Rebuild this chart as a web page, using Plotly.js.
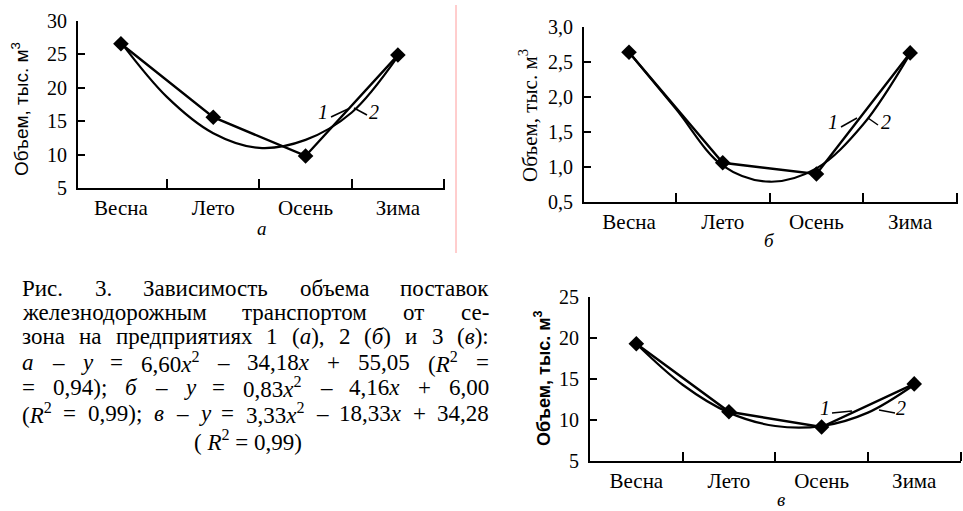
<!DOCTYPE html>
<html>
<head>
<meta charset="utf-8">
<script src="https://cdn.plot.ly/plotly-3.0.1.min.js"></script>
<style>html,body{margin:0;padding:0;background:#fff;}#chart{width:963px;height:511px;}</style>
</head>
<body>
<div id="chart"></div>
<script>
// ---- data ----
const seasons = ['Весна', 'Лето', 'Осень', 'Зима'];
const seasonIdx = [1, 2, 3, 4];
// 1: actual supply volume, thousand m3
const volA = [26.6, 15.6, 9.8, 24.9];
const volB = [2.64, 1.06, 0.90, 2.63];
const volC = [19.3, 11.0, 9.15, 14.4];
// 2: trend curve at half-season steps
const trendX = [1, 1.5, 2, 2.5, 3, 3.5, 4];
const trendA = [26.8, 18.6, 13.2, 11.0, 12.2, 16.3, 24.7];
const trendB = [2.64, 1.83, 1.02, 0.79, 0.98, 1.61, 2.62];
const trendC = [19.3, 14.3, 10.9, 9.27, 9.26, 10.9, 14.3];
const yTicksA = [5, 10, 15, 20, 25, 30];
const yTicksB = [0.5, 1.0, 1.5, 2.0, 2.5, 3.0];
const yTicksC = [5, 10, 15, 20, 25];
const yTitle = 'Объем, тыс. м<sup>3</sup>';
const panelLabels = ['а', 'б', 'в'];
const captionLines = [
  ['Рис.', '3.', 'Зависимость', 'объема', 'поставок'],
  ['железнодорожным', 'транспортом', 'от', 'се-'],
  ['зона', 'на', 'предприятиях', '1', '(<i>а</i>),', '2', '(<i>б</i>)', 'и', '3', '(<i>в</i>):'],
  ['<i>а</i>', '–', '<i>у</i>', '=', '6,60<i>x</i><sup>2</sup>', '–', '34,18<i>x</i>', '+', '55,05', '(<i>R</i><sup>2</sup>', '='],
  ['=', '0,94);', '<i>б</i>', '–', '<i>у</i>', '=', '0,83<i>x</i><sup>2</sup>', '–', '4,16<i>x</i>', '+', '6,00'],
  ['(<i>R</i><sup>2</sup>', '=', '0,99);', '<i>в</i>', '–', '<i>у</i>', '=', '3,33<i>x</i><sup>2</sup>', '–', '18,33<i>x</i>', '+', '34,28']
];
const captionLast = '( <i>R</i><sup>2</sup> = 0,99)';

// ---- layout helpers ----
const W = 963, H = 511;
const px = x => x / W;
const py = y => 1 - y / H;
const serif = 'Liberation Serif';
const sans = 'Liberation Sans';

function series(xa, ya, v, t) {
  return [
    {x: trendX, y: t, xaxis: xa, yaxis: ya, type: 'scatter', mode: 'lines',
     line: {color: '#000', width: 2.2, shape: 'spline', smoothing: 1}, hoverinfo: 'skip'},
    {x: seasonIdx, y: v, xaxis: xa, yaxis: ya, type: 'scatter', mode: 'lines+markers',
     line: {color: '#000', width: 2.4}, marker: {symbol: 'diamond', size: 12, color: '#000'}}
  ];
}
const data = [].concat(
  series('x', 'y', volA, trendA),
  series('x2', 'y2', volB, trendB),
  series('x3', 'y3', volC, trendC)
);

function xax(dom, rng, anchor) {
  return {domain: dom, range: rng, anchor: anchor, tickmode: 'array', tickvals: seasonIdx, ticktext: seasons,
    ticks: '', showgrid: false, zeroline: false, showline: true, linecolor: '#000', linewidth: 2,
    tickfont: {family: serif, size: 21, color: '#000'}, ticklabelstandoff: 0,
    minor: {tickmode: 'array', tickvals: [1.5, 2.5, 3.5, 4.5], ticks: 'inside', ticklen: 9, tickwidth: 2, tickcolor: '#000', showgrid: false},
    fixedrange: true};
}
function yax(dom, rng, anchor, tv, fmt) {
  return {domain: dom, range: rng, anchor: anchor, tickmode: 'array', tickvals: tv, tickformat: fmt,
    ticks: 'inside', ticklen: 7, tickwidth: 2, tickcolor: '#000', showgrid: false, zeroline: false,
    showline: true, linecolor: '#000', linewidth: 2, ticklabelstandoff: 5,
    tickfont: {family: serif, size: 20, color: '#000'}, fixedrange: true};
}

const ann = [];
function txt(text, x, y, opts) {
  ann.push(Object.assign({text: text, x: px(x), y: py(y), xref: 'paper', yref: 'paper', showarrow: false,
    xanchor: 'left', yanchor: 'middle', font: {family: serif, size: 20, color: '#000'}}, opts || {}));
}
// axis titles
txt(yTitle, 20, 109, {textangle: -90, xanchor: 'center', font: {family: sans, size: 19, color: '#000'}});
txt(yTitle, 528, 116, {textangle: -90, xanchor: 'center', font: {family: serif, size: 21, color: '#000'}});
txt('<b>' + yTitle + '</b>', 542, 378, {textangle: -90, xanchor: 'center', font: {family: sans, size: 18, color: '#000'}});
// panel letters
const pf = {family: serif, size: 19, color: '#000'};
txt('<i>' + panelLabels[0] + '</i>', 262, 229, {xanchor: 'center', font: pf});
txt('<i>' + panelLabels[1] + '</i>', 769, 240, {xanchor: 'center', font: pf});
txt('<i>' + panelLabels[2] + '</i>', 781, 499, {xanchor: 'center', font: pf});
// curve labels 1 and 2
const lf = {family: serif, size: 20, color: '#000'};
txt('<i>1</i>', 323, 112, {xanchor: 'center', font: lf});
txt('<i>2</i>', 374, 112, {xanchor: 'center', font: lf});
txt('<i>1</i>', 833, 122, {xanchor: 'center', font: lf});
txt('<i>2</i>', 886, 122, {xanchor: 'center', font: lf});
txt('<i>1</i>', 825, 408, {xanchor: 'center', font: lf});
txt('<i>2</i>', 901, 408, {xanchor: 'center', font: lf});

// ---- caption, justified between two margins by measuring words ----
const CAP_SIZE = 23;
const cv = document.createElement('canvas').getContext('2d');
function measure(html) {
  let w = 0, ital = false, sup = false;
  html.split(/(<\/?(?:i|sup)>)/).forEach(p => {
    if (p === '<i>') ital = true; else if (p === '</i>') ital = false;
    else if (p === '<sup>') sup = true; else if (p === '</sup>') sup = false;
    else if (p) {
      const s = sup ? CAP_SIZE * 0.7 : CAP_SIZE;
      cv.font = (ital ? 'italic ' : '') + s + 'px "Liberation Serif"';
      w += cv.measureText(p).width;
    }
  });
  return w + 3; // small safety pad
}
const capLeft = 20, capRight = 490;
const capY = [288, 312, 336.5, 362, 387.5, 413, 440.5];
const cf = {family: serif, size: CAP_SIZE, color: '#000'};
captionLines.forEach((words, li) => {
  const widths = words.map(measure);
  const total = widths.reduce((a, b) => a + b, 0);
  const gap = (capRight - capLeft - total) / (words.length - 1);
  let x = capLeft;
  words.forEach((w, i) => { txt(w, x, capY[li], {font: cf}); x += widths[i] + gap; });
});
txt(captionLast, 248, capY[6], {xanchor: 'center', font: cf});

const shapes = [
  {type: 'line', xref: 'paper', yref: 'paper', x0: px(456), x1: px(456), y0: py(5), y1: py(253), line: {color: '#ff9c9c', width: 1}},
  // leader lines for labels 1 and 2
  {type: 'line', xref: 'paper', yref: 'paper', x0: px(331), y0: py(117), x1: px(348), y1: py(109), line: {color: '#000', width: 1.5}},
  {type: 'line', xref: 'paper', yref: 'paper', x0: px(367), y0: py(115), x1: px(354), y1: py(108), line: {color: '#000', width: 1.5}},
  {type: 'line', xref: 'paper', yref: 'paper', x0: px(841), y0: py(127), x1: px(857), y1: py(118), line: {color: '#000', width: 1.5}},
  {type: 'line', xref: 'paper', yref: 'paper', x0: px(878), y0: py(125), x1: px(868), y1: py(118), line: {color: '#000', width: 1.5}},
  {type: 'line', xref: 'paper', yref: 'paper', x0: px(832), y0: py(413), x1: px(852), y1: py(411), line: {color: '#000', width: 1.5}},
  {type: 'line', xref: 'paper', yref: 'paper', x0: px(895), y0: py(413), x1: px(879), y1: py(410), line: {color: '#000', width: 1.5}}
];

const layout = {
  width: W, height: H, margin: {l: 0, r: 0, t: 0, b: 0}, showlegend: false,
  paper_bgcolor: '#fff', plot_bgcolor: 'rgba(0,0,0,0)', separators: ', ',
  xaxis: xax([px(78), px(444.5)], [0.535, 4.505], 'y'),
  yaxis: yax([py(188), py(21)], [5, 30], 'x', yTicksA),
  xaxis2: xax([px(584), px(957.5)], [0.52, 4.505], 'y2'),
  yaxis2: yax([py(202), py(27)], [0.5, 3.0], 'x2', yTicksB, '.1f'),
  xaxis3: xax([px(590), px(961)], [0.5, 4.505], 'y3'),
  yaxis3: yax([py(461), py(297)], [5, 25], 'x3', yTicksC),
  annotations: ann, shapes: shapes
};
Plotly.newPlot('chart', data, layout, {staticPlot: true, displayModeBar: false});
</script>
</body>
</html>
